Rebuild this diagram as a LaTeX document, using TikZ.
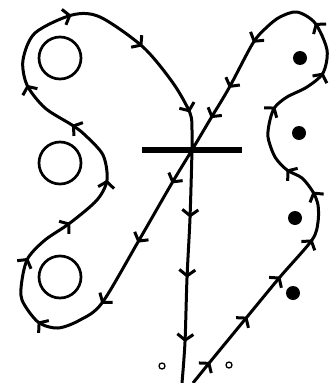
\documentclass[tikz,border=0pt]{standalone}
\usepackage{tikz}
\usetikzlibrary{arrows.meta,decorations.markings}

\begin{document}
\begin{tikzpicture}[
  x=1pt,y=-1pt,
  flowtip/.tip={Straight Barb[length=6pt,width=16pt]},
  flow/.style={line width=3pt,line join=round,postaction={decorate}},
  arrowat/.style={decoration={markings,mark=at position #1 with {\arrow{flowtip}}}},
  ring/.style={circle,draw,line width=2.7pt,minimum size=42pt,inner sep=0pt},
  dot/.style={circle,fill,minimum size=14pt,inner sep=0pt},
  hole/.style={circle,draw,line width=1.3pt,minimum size=6pt,inner sep=0pt},
  bar/.style={line width=5.5pt}
]
\useasboundingbox (0,0) rectangle (335,383);

% circles on the left, dots on the right
\node[ring] (r1) at (60,58) {};
\node[ring] (r2) at (60,163) {};
\node[ring] (r3) at (60,277) {};
\node[dot] (d1) at (300,58) {};
\node[dot] (d2) at (299,133) {};
\node[dot] (d3) at (295,218) {};
\node[dot] (d4) at (293,293) {};
\node[hole] (h1) at (162,366) {};
\node[hole] (h2) at (229,365) {};

% the bar through the crossing
\coordinate (cross) at (192,150);
\draw[bar] (142,150) -- (242,150);

% one long orbit
\draw[flow,arrowat/.list={0.0155,0.049,0.0787,0.1068,0.1354,0.1554,0.1955,0.2295,0.2598,
  0.3037,0.333,0.3531,0.3966,0.4357,0.4763,0.5177,0.5578,0.5894,0.6226,0.662,0.6971,
  0.7521,0.7983,0.845,0.9053,0.9397,0.9765}]
  plot[smooth,tension=0.5] coordinates {
  (193,383) (210,362) (247,317) (280,277) (312,240) (318,222) (318,205) (313,192)
  (302,178) (287,170) (275,157) (268,137) (270,120) (275,107) (287,97) (307,87)
  (323,73) (327,50) (315,23) (297,12) (280,17) (267,27) (253,43) (229,88) (211,118)
  (cross) (172,183) (138,242) (102,303) (80,320) (58,328) (38,322) (22,300) (22,280)
  (28,258) (45,240) (70,223) (97,200) (107,180) (103,155) (85,135) (72,125) (45,108)
  (27,85) (23,60) (35,33) (72,15) (100,17) (143,47) (173,83) (190,113) (192,130)
  (cross) (190,218) (187,278) (185,342) (182,383)};
\end{tikzpicture}
\end{document}
